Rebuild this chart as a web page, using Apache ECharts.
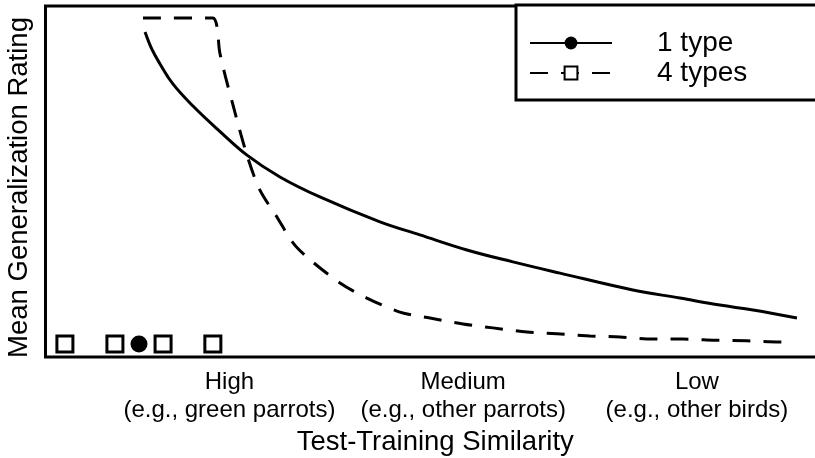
<!DOCTYPE html>
<html><head><meta charset="utf-8">
<script src="https://cdn.jsdelivr.net/npm/echarts@6/dist/echarts.min.js"></script>
<style>html,body{margin:0;padding:0;background:#fff}#c{width:815px;height:458px}</style>
</head><body><div id="c"></div>
<script>
const seriesNames = ['1 type', '4 types'];
const categoryPositions = [1, 2, 3];
const categoryLabels = ['High\n(e.g., green parrots)', 'Medium\n(e.g., other parrots)', 'Low\n(e.g., other birds)'];
const xTitle = 'Test-Training Similarity';
const yTitle = 'Mean Generalization Rating';

const oneTypeX = [0.639, 0.668, 0.703, 0.758, 0.844, 0.947, 1.075, 1.216, 1.387, 1.644, 1.815, 2.016, 2.213, 2.414, 2.726, 2.927, 3.098, 3.240, 3.428];
const oneTypeY = [92.6, 87.7, 83.5, 77.8, 71.5, 65.0, 57.5, 51.3, 45.6, 38.5, 34.8, 30.5, 27.1, 23.9, 19.1, 16.8, 14.8, 13.4, 11.1];

const fourTypesX = [0.630, 0.929, 0.947, 0.959, 1.015, 1.075, 1.130, 1.203, 1.272, 1.336, 1.473, 1.588, 1.729, 1.858, 1.999, 2.127, 2.273, 2.401, 2.542, 2.671, 2.812, 2.940, 3.077, 3.214, 3.355, 3.398];
const fourTypesY = [96.6, 96.6, 94.0, 86.6, 71.8, 57.5, 47.6, 39.9, 32.5, 28.2, 21.1, 16.8, 12.8, 11.1, 9.4, 8.3, 7.1, 6.6, 6.0, 5.7, 5.1, 5.1, 4.8, 4.6, 4.3, 4.3];

const oneTypeTrainingX = [0.613];
const fourTypesTrainingX = [0.296, 0.510, 0.716, 0.929];
const trainingY = 3.7;

const zip = (xs, ys) => xs.map((x, i) => [x, ys[i]]);
const font = "'Liberation Sans', Arial, sans-serif";

const chart = echarts.init(document.getElementById('c'), null, {renderer: 'canvas'});
chart.setOption({
  animation: false,
  backgroundColor: '#fff',
  textStyle: {fontFamily: font, color: '#000'},
  grid: {left: 45.5, top: 6, width: 779.5, height: 351, show: true, borderColor: '#000', borderWidth: 3,
         backgroundColor: 'transparent', containLabel: false, outerBoundsMode: 'none'},
  xAxis: {
    type: 'value', min: 0.213, max: 3.548,
    axisLine: {show: false}, axisTick: {show: false}, splitLine: {show: false},
    axisLabel: {
      customValues: categoryPositions,
      formatter: v => categoryLabels[categoryPositions.indexOf(v)] || '',
      fontSize: 24, lineHeight: 28, color: '#000', margin: 11, fontFamily: font
    },
    name: xTitle, nameLocation: 'middle', nameGap: 67,
    nameTextStyle: {fontSize: 27.5, color: '#000', fontFamily: font}
  },
  yAxis: {
    type: 'value', min: 0, max: 100,
    axisLine: {show: false}, axisTick: {show: false}, splitLine: {show: false}, axisLabel: {show: false},
    name: yTitle, nameLocation: 'middle', nameGap: 12, nameRotate: 90,
    nameTextStyle: {fontSize: 27.5, color: '#000', fontFamily: font, padding: [0, 12, 0, 0]}
  },
  legend: {
    data: seriesNames,
    orient: 'vertical', left: 516, top: 5,
    padding: [24, 200, 13, 13],
    itemGap: 2, itemWidth: 82, itemHeight: 16,
    borderColor: '#000', borderWidth: 3, backgroundColor: '#fff',
    textStyle: {fontSize: 28, color: '#000', fontFamily: font, padding: [0, 0, 0, 40]}
  },
  series: [
    {
      name: seriesNames[0], type: 'line', data: zip(oneTypeX, oneTypeY),
      showSymbol: false, symbol: 'circle', smooth: 0.4,
      lineStyle: {color: '#000', width: 3, type: 'solid'},
      itemStyle: {color: '#000'}
    },
    {
      name: seriesNames[1], type: 'line', data: zip(fourTypesX, fourTypesY),
      showSymbol: false, symbol: 'rect', smooth: 0.3,
      lineStyle: {color: '#000', width: 3, type: [18, 13]},
      itemStyle: {color: '#fff', borderColor: '#000', borderWidth: 3}
    },
    {
      name: 'training 4 types', type: 'scatter',
      data: fourTypesTrainingX.map(x => [x, trainingY]),
      symbol: 'rect', symbolSize: 16,
      itemStyle: {color: '#fff', borderColor: '#000', borderWidth: 3, opacity: 1}
    },
    {
      name: 'training 1 type', type: 'scatter',
      data: oneTypeTrainingX.map(x => [x, trainingY]),
      symbol: 'circle', symbolSize: 17,
      itemStyle: {color: '#000', opacity: 1}
    }
  ]
});
</script>
</body></html>
